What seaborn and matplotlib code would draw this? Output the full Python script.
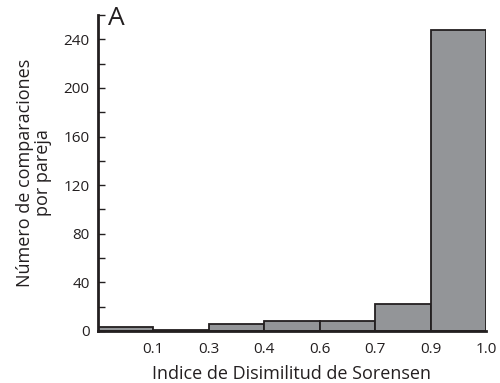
import matplotlib
matplotlib.use("Agg")
import matplotlib.pyplot as plt
import seaborn as sns
import pandas as pd
from matplotlib.ticker import MultipleLocator

bins = ["0.0-0.1", "0.1-0.3", "0.3-0.4", "0.4-0.6", "0.6-0.7", "0.7-0.9", "0.9-1.0"]
counts = [3, 1, 6, 8, 8, 22, 248]
edge_labels = ["0.1", "0.3", "0.4", "0.6", "0.7", "0.9", "1.0"]
yticks = [0, 40, 80, 120, 160, 200, 240]

sns.set_theme(style="ticks")
plt.rcParams["font.family"] = ["Open Sans", "DejaVu Sans"]
dark = "#231f20"

df = pd.DataFrame({"bin": bins, "count": counts})

fig = plt.figure(figsize=(5, 3.83), dpi=100)
ax = fig.add_axes([0.196, 0.1358, 0.776, 0.825])
sns.barplot(data=df, x="bin", y="count", ax=ax, color="#939598", width=1.0,
            edgecolor=dark, linewidth=1.3, saturation=1)

ax.set_xlim(-0.5, len(bins) - 0.5)
ax.set_ylim(0, 260)
ax.set_xticks([i + 0.5 for i in range(len(bins))])
ax.set_xticklabels(edge_labels, fontsize=11, color=dark)
ax.set_yticks(yticks)
ax.set_yticklabels([str(v) for v in yticks], fontsize=11, color=dark)
ax.yaxis.set_minor_locator(MultipleLocator(20))
ax.tick_params(axis="x", length=0, pad=8)
ax.tick_params(axis="y", which="both", direction="in", length=5, width=1, color=dark, pad=6)

for s in ["top", "right"]:
    ax.spines[s].set_visible(False)
for s in ["left", "bottom"]:
    ax.spines[s].set_color(dark)
    ax.spines[s].set_linewidth(2)

ax.set_xlabel("Indice de Disimilitud de Sorensen", fontsize=13, color=dark, labelpad=6)
ax.set_ylabel("Número de comparaciones\npor pareja", fontsize=13, color=dark, labelpad=8,
              linespacing=1.0)
fig.text(0.216, 0.985, "A", fontsize=19, color=dark, ha="left", va="top")

fig.savefig("out.png", dpi=100)
